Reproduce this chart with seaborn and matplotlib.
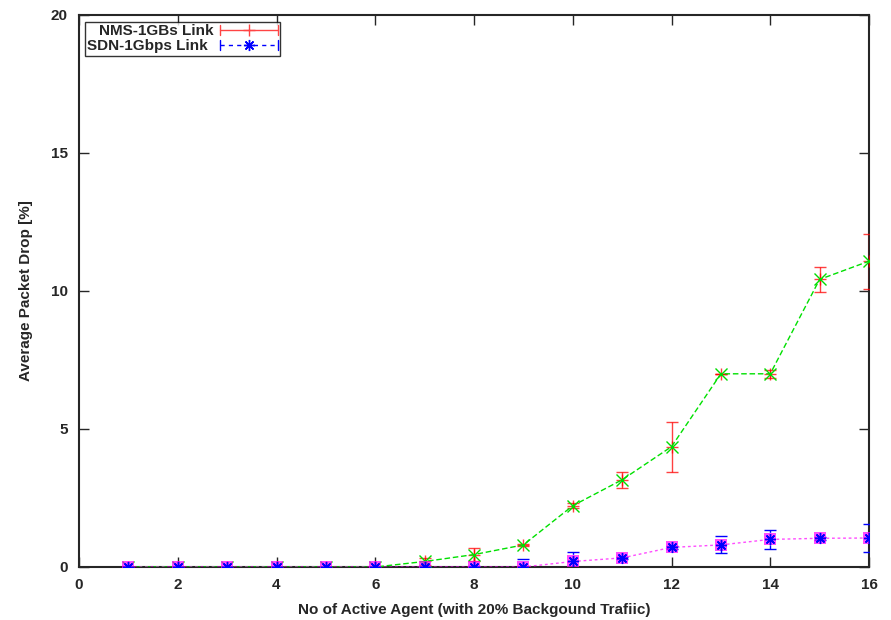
import numpy as np
import pandas as pd
import seaborn as sns
import matplotlib
matplotlib.use("Agg")
import matplotlib.pyplot as plt
from matplotlib.lines import Line2D
from matplotlib.legend_handler import HandlerBase
from matplotlib.transforms import Affine2D

agents = [1, 2, 3, 4, 5, 6, 7, 8, 9, 10, 11, 12, 13, 14, 15, 16]
nms_drop = [0, 0, 0, 0, 0, 0, 0.2, 0.45, 0.8, 2.22, 3.16, 4.36, 7.0, 7.0, 10.42, 11.08]
nms_err = [0, 0, 0, 0, 0, 0, 0.12, 0.25, 0.05, 0.1, 0.3, 0.9, 0.0, 0.15, 0.46, 1.0]
sdn_drop = [0, 0, 0, 0, 0, 0, 0, 0, 0, 0.2, 0.33, 0.71, 0.8, 1.0, 1.04, 1.05]
sdn_err = [0, 0, 0, 0, 0, 0, 0, 0.05, 0.3, 0.35, 0.05, 0.05, 0.31, 0.33, 0.05, 0.51]

sns.set_style("ticks")
plt.rcParams['font.family'] = ['Liberation Sans', 'DejaVu Sans']

ASTER = (8, 2, 0)  # gnuplot style asterisk


class GnuErrHandler(HandlerBase):
    # horizontal bar with end caps and a marker in the middle, like gnuplot keys
    def __init__(self, color, ls, marker, ms):
        super().__init__()
        self.color, self.ls, self.marker, self.ms = color, ls, marker, ms

    def create_artists(self, legend, orig, xd, yd, w, h, fs, trans):
        y = yd + h / 2
        cap = h * 0.45
        arts = [
            Line2D([xd, xd + w], [y, y], color=self.color, lw=1, ls=self.ls),
            Line2D([xd, xd], [y - cap, y + cap], color=self.color, lw=1),
            Line2D([xd + w, xd + w], [y - cap, y + cap], color=self.color, lw=1),
            Line2D([xd + w / 2], [y], color=self.color, marker=self.marker,
                   ms=self.ms, ls='none', mew=1),
        ]
        for a in arts:
            a.set_transform(trans)
        return arts


df = pd.DataFrame({"agents": agents, "nms": nms_drop, "sdn": sdn_drop})

fig = plt.figure(figsize=(8.91, 6.2), dpi=100)
ax = fig.add_axes([79 / 891, 1 - 567 / 620, 790 / 891, 552 / 620])

# error bars
e1 = ax.errorbar(agents, nms_drop, yerr=nms_err, fmt='+', color='#ff0000', ecolor='#ff0000',
                 elinewidth=1, capsize=4, markersize=8, alpha=0.75, zorder=3)
e2 = ax.errorbar(agents, sdn_drop, yerr=sdn_err, fmt='none', ecolor='#0000ff',
                 elinewidth=1, capsize=4, zorder=3)
e2[-1][0].set_linestyle((0, (3, 3)))

# connecting lines
sns.lineplot(data=df, x="agents", y="nms", ax=ax, color='#00e000', linestyle=(0, (4, 2)),
             linewidth=1, marker='x', markersize=8, markeredgewidth=1,
             markeredgecolor='#00dd00', legend=False, zorder=4)
sns.lineplot(data=df, x="agents", y="sdn", ax=ax, color='#ff00ff', linestyle=(0, (2, 2)),
             linewidth=1, marker='s', markersize=8, markeredgewidth=0, alpha=0.7,
             legend=False, zorder=4)
ax.plot(agents, sdn_drop, ls='none', marker=ASTER, ms=8, mew=1, color='#0000ff', zorder=5)

ax.set_xlim(0, 16)
ax.set_ylim(0, 20)
ax.set_xticks(np.arange(0, 17, 2))
ax.set_yticks(np.arange(0, 21, 5))
ax.tick_params(direction='in', top=True, right=True, length=7, width=1, labelsize=11, pad=8)
for t in ax.get_xticklabels() + ax.get_yticklabels():
    t.set_fontweight('bold')
for s in ax.spines.values():
    s.set_linewidth(1.5)

ax.set_xlabel('No of Active Agent (with 20% Backgound Trafiic)', fontsize=11,
              fontweight='bold', labelpad=8)
ax.set_ylabel('Average Packet Drop [%]', fontsize=11, fontweight='bold', labelpad=13)

leg = ax.legend([e1, e2], ['NMS-1GBs Link', 'SDN-1Gbps Link'], loc='upper left',
                markerfirst=False, frameon=True, fancybox=False,
                borderpad=0.15, handlelength=3.8, labelspacing=0.05, handletextpad=0.8,
                bbox_to_anchor=(0.007, 0.987),
                borderaxespad=0, prop={'weight': 'bold', 'size': 11},
                handler_map={e1: GnuErrHandler('#ff4444', '-', '+', 9),
                             e2: GnuErrHandler('#0000ff', (0, (3, 3)), ASTER, 8)})
leg.get_frame().set_edgecolor('black')
leg.get_frame().set_linewidth(1)

# right-align legend labels like gnuplot
fig.canvas.draw()
renderer = fig.canvas.get_renderer()
widths = [t.get_window_extent(renderer).width for t in leg.get_texts()]
wmax = max(widths)
for t, w in zip(leg.get_texts(), widths):
    t.set_transform(t.get_transform() + Affine2D().translate(wmax - w, 0))

fig.savefig("out.png", dpi=100)
